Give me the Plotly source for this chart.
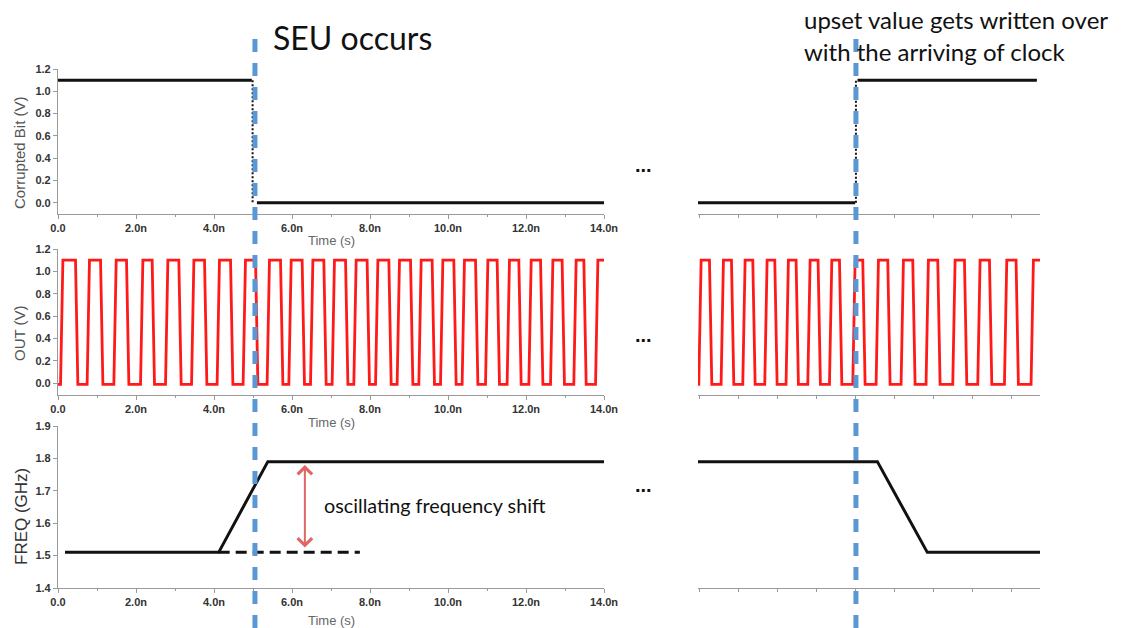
import plotly.graph_objects as go

# ---------------- data ----------------
# Corrupted bit (V)
bit_left_t = [0.0, 4.97, 5.10, 14.0]
bit_left_v = [1.10, 1.10, 0.0, 0.0]
bit_left_edge_t = [4.99, 4.99]
bit_left_edge_v = [1.10, 0.0]

bit_right_t = [-0.05, 3.98, 4.04, 8.64]
bit_right_v = [0.0, 0.0, 1.10, 1.10]
bit_right_edge_t = [4.0, 4.0]
bit_right_edge_v = [0.0, 1.10]

# OUT (V): rising / falling edge times (ns) of the ring-oscillator output
out_high = 1.10
out_low = -0.01
out_left_rise = [0.095, 0.777, 1.462, 2.146, 2.787, 3.454, 4.110, 4.777, 5.392, 5.949,
                 6.505, 7.059, 7.615, 8.172, 8.726, 9.282, 9.838, 10.392, 10.992, 11.546,
                 12.103, 12.659, 13.256, 13.813]
out_left_fall = [0.479, 1.121, 1.787, 2.444, 3.128, 3.787, 4.454, 5.095, 5.736, 6.290,
                 6.846, 7.403, 7.956, 8.513, 9.069, 9.623, 10.179, 10.736, 11.290, 11.846,
                 12.403, 12.956, 13.513]
out_right_rise = [0.0, 0.572, 1.128, 1.692, 2.238, 2.795, 3.351, 3.949, 4.547, 5.188,
                  5.828, 6.513, 7.154, 7.838, 8.521]
out_right_fall = [0.274, 0.838, 1.385, 1.949, 2.495, 3.059, 3.608, 4.205, 4.846, 5.487,
                  6.128, 6.813, 7.454, 8.136]

# FREQ (GHz)
freq_left_t = [0.18, 4.12, 5.38, 14.0]
freq_left_f = [1.51, 1.51, 1.79, 1.79]
freq_ref_t = [4.12, 7.74]
freq_ref_f = [1.51, 1.51]
freq_right_t = [-0.05, 4.55, 5.83, 8.72]
freq_right_f = [1.79, 1.79, 1.51, 1.51]

# arrow marking the frequency shift
shift_t = 6.33
shift_lo = 1.52
shift_hi = 1.78

# ticks
x_major = [0, 2, 4, 6, 8, 10, 12, 14]
x_major_text = ["0.0", "2.0n", "4.0n", "6.0n", "8.0n", "10.0n", "12.0n", "14.0n"]
x_minor = [1, 3, 5, 7, 9, 11, 13]
v_ticks = [0.0, 0.2, 0.4, 0.6, 0.8, 1.0, 1.2]
f_ticks = [1.4, 1.5, 1.6, 1.7, 1.8, 1.9]
right_ticks = [0, 1, 2, 3, 4, 5, 6, 7, 8]

seu_left_t = 5.05
seu_right_t = 4.0

# ---------------- helpers ----------------
W, H = 1142, 628
def fx(p):
    return p / W
def fy(p):
    return 1 - p / H

EDGE = 0.03

def square_wave(rises, falls, t0, t1, start_level):
    ev = sorted([(t, 1) for t in rises] + [(t, 0) for t in falls])
    xs, ys = [t0], [start_level]
    level = start_level
    for t, k in ev:
        if k == 1:
            xs += [t - EDGE, t + EDGE]
            ys += [out_low, out_high]
            level = out_high
        else:
            xs += [t - EDGE, t + EDGE]
            ys += [out_high, out_low]
            level = out_low
    xs.append(t1)
    ys.append(level)
    return xs, ys

fig = go.Figure()
BLACK = "#111111"
RED = "#ff1a1a"

# top-left
fig.add_trace(go.Scatter(x=bit_left_t[:2], y=bit_left_v[:2], mode="lines",
                         line=dict(color=BLACK, width=3), xaxis="x", yaxis="y"))
fig.add_trace(go.Scatter(x=bit_left_t[2:], y=bit_left_v[2:], mode="lines",
                         line=dict(color=BLACK, width=3), xaxis="x", yaxis="y"))
fig.add_trace(go.Scatter(x=bit_left_edge_t, y=bit_left_edge_v, mode="lines",
                         line=dict(color=BLACK, width=2, dash="2px,2px"), xaxis="x", yaxis="y"))
# top-right
fig.add_trace(go.Scatter(x=bit_right_t[:2], y=bit_right_v[:2], mode="lines",
                         line=dict(color=BLACK, width=3), xaxis="x4", yaxis="y4"))
fig.add_trace(go.Scatter(x=bit_right_t[2:], y=bit_right_v[2:], mode="lines",
                         line=dict(color=BLACK, width=3), xaxis="x4", yaxis="y4"))
fig.add_trace(go.Scatter(x=bit_right_edge_t, y=bit_right_edge_v, mode="lines",
                         line=dict(color=BLACK, width=2, dash="2px,2px"), xaxis="x4", yaxis="y4"))

# middle
lx, ly = square_wave(out_left_rise, out_left_fall, 0.0, 14.0, out_low)
fig.add_trace(go.Scatter(x=lx, y=ly, mode="lines", line=dict(color=RED, width=2.8),
                         xaxis="x2", yaxis="y2"))
rx, ry = square_wave(out_right_rise, out_right_fall, -0.05, 8.72, out_low)
fig.add_trace(go.Scatter(x=rx, y=ry, mode="lines", line=dict(color=RED, width=2.8),
                         xaxis="x5", yaxis="y5"))

# bottom
fig.add_trace(go.Scatter(x=freq_left_t, y=freq_left_f, mode="lines",
                         line=dict(color=BLACK, width=3), xaxis="x3", yaxis="y3"))
fig.add_trace(go.Scatter(x=freq_ref_t, y=freq_ref_f, mode="lines",
                         line=dict(color=BLACK, width=3, dash="11px,6px"), xaxis="x3", yaxis="y3"))
fig.add_trace(go.Scatter(x=freq_right_t, y=freq_right_f, mode="lines",
                         line=dict(color=BLACK, width=3), xaxis="x6", yaxis="y6"))

# ---------------- axes ----------------
AX = "#9a9a9a"
TF = dict(family="Liberation Sans, Arial", size=11, color="#333333", weight="bold")

def left_x(anchor):
    return dict(domain=[fx(58), fx(604)], range=[0, 14], anchor=anchor, automargin=False,
                showgrid=False, zeroline=False, showline=True, linecolor=AX, linewidth=1.2,
                ticks="outside", ticklen=4, tickcolor=AX, tickwidth=1,
                tickmode="array", tickvals=x_major, ticktext=x_major_text, tickfont=TF,
                minor=dict(tickvals=x_minor, ticks="outside", ticklen=2, tickcolor=AX),
                fixedrange=True)

def left_y(anchor, dom, rng, tv):
    return dict(domain=dom, range=rng, anchor=anchor, automargin=False,
                showgrid=False, zeroline=False, showline=True, linecolor=AX, linewidth=1.2,
                ticks="outside", ticklen=4, tickcolor=AX, tickwidth=1,
                tickmode="array", tickvals=tv, ticktext=[f"{v:.1f}" for v in tv], tickfont=TF,
                fixedrange=True)

def right_x(anchor):
    return dict(domain=[fx(698), fx(1040)], range=[-0.05, 8.72], anchor=anchor, automargin=False,
                showgrid=False, zeroline=False, showline=True, linecolor=AX, linewidth=1.2,
                ticks="outside", ticklen=3, tickcolor=AX, tickwidth=1,
                tickmode="array", tickvals=right_ticks, showticklabels=False, fixedrange=True)

def right_y(anchor, dom, rng):
    return dict(domain=dom, range=rng, anchor=anchor, visible=False, showgrid=False,
                automargin=False, zeroline=False, fixedrange=True)

dom_top = [fy(214), fy(69)]
dom_mid = [fy(394.5), fy(249)]
dom_bot = [fy(588), fy(426)]

fig.update_layout(
    width=W, height=H, margin=dict(l=0, r=0, t=0, b=0, pad=0, autoexpand=False),
    paper_bgcolor="white", plot_bgcolor="white", showlegend=False,
    xaxis=left_x("y"), yaxis=left_y("x", dom_top, [-0.1, 1.2], v_ticks),
    xaxis2=left_x("y2"), yaxis2=left_y("x2", dom_mid, [-0.1, 1.2], v_ticks),
    xaxis3=left_x("y3"), yaxis3=left_y("x3", dom_bot, [1.4, 1.9], f_ticks),
    xaxis4=right_x("y4"), yaxis4=right_y("x4", dom_top, [-0.1, 1.2]),
    xaxis5=right_x("y5"), yaxis5=right_y("x5", dom_mid, [-0.1, 1.2]),
    xaxis6=right_x("y6"), yaxis6=right_y("x6", dom_bot, [1.4, 1.9]),
)

# SEU marker lines
BLUE = "#5a97d3"
fig.add_shape(type="line", xref="x", yref="paper", x0=seu_left_t, x1=seu_left_t,
              y0=0, y1=fy(30), line=dict(color=BLUE, width=5, dash="13px,11px"), layer="above")
fig.add_shape(type="line", xref="x4", yref="paper", x0=seu_right_t, x1=seu_right_t,
              y0=0, y1=fy(35), line=dict(color=BLUE, width=5, dash="13px,11px"), layer="above")

# ---------------- text ----------------
TITLE_FONT = "Liberation Sans, Arial"
ann = []

def txt(text, px, py, size, family, color, xanchor="center", angle=0):
    return dict(text=text, x=fx(px), y=fy(py), xref="paper", yref="paper",
                xanchor=xanchor, yanchor="middle", textangle=angle, showarrow=False,
                font=dict(family=family, size=size, color=color))

ann.append(txt("Corrupted Bit (V)", 19, 153, 15, TITLE_FONT, "#555555", angle=-90))
ann.append(txt("OUT (V)", 19, 333, 15, TITLE_FONT, "#555555", angle=-90))
ann.append(txt("FREQ (GHz)", 21, 517, 17, TITLE_FONT, "#333333", angle=-90))
for yy in (241, 422, 620):
    ann.append(txt("Time (s)", 331, yy, 13, TITLE_FONT, "#666666"))

CAL = "Lato, Open Sans, sans-serif"
ann.append(txt("SEU occurs", 271, 38, 32, CAL, "#111111", xanchor="left"))
ann.append(txt("upset value gets written over", 802, 20, 24, CAL, "#111111", xanchor="left"))
ann.append(txt("with the arriving of clock", 802, 52, 24, CAL, "#111111", xanchor="left"))
ann.append(txt("oscillating frequency shift", 322, 505, 19.8, CAL, "#111111", xanchor="left"))
for yy in (165, 335, 485):
    ann.append(txt("<b>...</b>", 643, yy, 20, "Liberation Sans, Arial", "#111111"))

# double-headed red arrow
ann.append(dict(x=shift_t, y=shift_hi, ax=shift_t, ay=shift_lo, xref="x3", yref="y3",
                axref="x3", ayref="y3", text="", showarrow=True, arrowside="end+start",
                arrowhead=4, startarrowhead=4, arrowsize=1.4, startarrowsize=1.4,
                arrowwidth=2, arrowcolor="#e06666", standoff=0, startstandoff=0))

fig.update_layout(annotations=ann)
fig.write_html("out.html")
